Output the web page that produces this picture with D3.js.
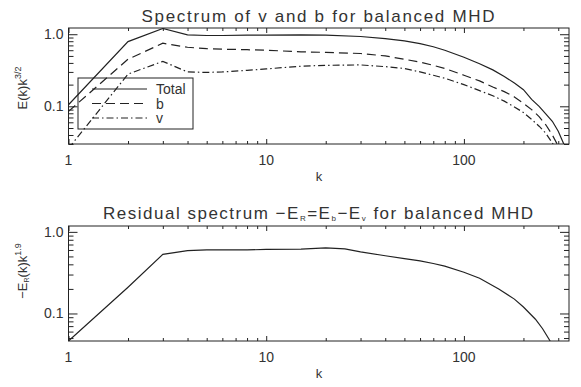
<!DOCTYPE html>
<html>
<head>
<meta charset="utf-8">
<script src="https://cdn.jsdelivr.net/npm/d3@7"></script>
<style>
  body { margin: 0; background: #fff; }
  svg text { font-family: "Liberation Sans", Arial, sans-serif; fill: #333; }
</style>
</head>
<body>
<div id="chart"></div>
<script>
// wavenumbers and spectra
var kTop = [1, 2, 3, 4, 5, 6, 8, 10, 15, 20, 30, 40, 50, 60, 70, 80, 100, 120, 140, 160, 180, 200, 220, 240, 260, 280, 300, 320, 340];
var total = [0.105, 0.79, 1.2, 0.98, 0.96, 0.96, 0.97, 0.97, 0.98, 0.97, 0.93, 0.87, 0.81, 0.74, 0.67, 0.6, 0.48, 0.39, 0.32, 0.26, 0.21, 0.17, 0.125, 0.1, 0.078, 0.062, 0.045, 0.03, 0.018];
var bSpec = [0.085, 0.45, 0.75, 0.66, 0.63, 0.62, 0.61, 0.6, 0.57, 0.56, 0.54, 0.5, 0.45, 0.41, 0.37, 0.335, 0.27, 0.225, 0.185, 0.16, 0.135, 0.11, 0.09, 0.072, 0.055, 0.04, 0.028, 0.02, 0.014];
var vSpec = [0.026, 0.28, 0.42, 0.30, 0.295, 0.30, 0.315, 0.33, 0.36, 0.37, 0.375, 0.355, 0.335, 0.3, 0.27, 0.245, 0.2, 0.165, 0.14, 0.118, 0.098, 0.082, 0.066, 0.053, 0.042, 0.031, 0.022, 0.016, 0.011];

var kRes = [1, 2, 3, 4, 5, 6, 8, 10, 15, 20, 25, 30, 40, 50, 60, 70, 80, 100, 120, 150, 180, 200, 230, 250, 270, 290];
var residual = [0.046, 0.21, 0.53, 0.59, 0.6, 0.6, 0.6, 0.61, 0.615, 0.635, 0.62, 0.57, 0.51, 0.47, 0.44, 0.41, 0.38, 0.32, 0.27, 0.2, 0.15, 0.12, 0.085, 0.065, 0.048, 0.035];

var xMajor = [1, 10, 100];
var xMinor = [2, 3, 4, 5, 6, 7, 8, 9, 20, 30, 40, 50, 60, 70, 80, 90, 200, 300];
var yMajor = [0.1, 1];
var yMinor = [0.03, 0.04, 0.05, 0.06, 0.07, 0.08, 0.09, 0.2, 0.3, 0.4, 0.5, 0.6, 0.7, 0.8, 0.9];

var legendNames = ["Total", "b", "v"];
var dashes = [null, "9,5", "7,3,1.5,3"];

var W = 581, H = 387;
var svg = d3.select("#chart").append("svg")
    .attr("width", W)
    .attr("height", H);

var ink = "#222";

function panel(opts) {
    var x = d3.scaleLog().domain([1, 340]).range([68.5, 569]);
    var y = d3.scaleLog().domain(opts.yDomain).range([opts.bottom, opts.top]);
    var g = svg.append("g");

    // clip
    var cid = "clip" + opts.id;
    svg.append("clipPath").attr("id", cid).append("rect")
        .attr("x", x.range()[0]).attr("y", opts.top)
        .attr("width", x.range()[1] - x.range()[0])
        .attr("height", opts.bottom - opts.top);

    function axis(gen, tx, ty, vals, size) {
        var a = g.append("g").attr("transform", "translate(" + tx + "," + ty + ")")
            .call(gen.tickValues(vals.filter(function (v) {
                var d = gen.scale().domain();
                return v >= d[0] && v <= d[1];
            })).tickSize(size).tickFormat(""));
        a.select(".domain").remove();
        a.selectAll("line").attr("stroke", ink);
    }
    // x ticks (bottom pointing up, top pointing down)
    axis(d3.axisBottom(x), 0, opts.bottom, xMajor, -5);
    axis(d3.axisBottom(x), 0, opts.bottom, xMinor, -3);
    axis(d3.axisTop(x), 0, opts.top, xMajor, -5);
    axis(d3.axisTop(x), 0, opts.top, xMinor, -3);
    // y ticks (left pointing right, right pointing left)
    axis(d3.axisLeft(y), x.range()[0], 0, yMajor, -9);
    axis(d3.axisLeft(y), x.range()[0], 0, yMinor, -5);
    axis(d3.axisRight(y), x.range()[1], 0, yMajor, -9);
    axis(d3.axisRight(y), x.range()[1], 0, yMinor, -5);

    g.append("rect")
        .attr("x", x.range()[0]).attr("y", opts.top)
        .attr("width", x.range()[1] - x.range()[0])
        .attr("height", opts.bottom - opts.top)
        .attr("fill", "none").attr("stroke", ink).attr("stroke-width", 1);

    // tick labels
    g.selectAll(".xl").data(xMajor).enter().append("text")
        .attr("x", function (d) { return x(d); })
        .attr("y", opts.bottom + 21)
        .attr("text-anchor", "middle")
        .attr("font-size", 14)
        .text(function (d) { return d; });
    g.selectAll(".yl").data(yMajor).enter().append("text")
        .attr("x", x.range()[0] - 5)
        .attr("y", function (d) { return y(d) + 5; })
        .attr("text-anchor", "end")
        .attr("font-size", 14)
        .text(function (d) { return d3.format(".1f")(d); });
    g.append("text")
        .attr("x", 319).attr("y", opts.bottom + 37)
        .attr("text-anchor", "middle").attr("font-size", 13)
        .text("k");

    var line = d3.line()
        .x(function (d) { return x(d[0]); })
        .y(function (d) { return y(d[1]); });

    opts.series.forEach(function (s, i) {
        g.append("path")
            .datum(d3.zip(opts.k, s))
            .attr("d", line)
            .attr("fill", "none")
            .attr("stroke", ink)
            .attr("stroke-width", 1.2)
            .attr("stroke-dasharray", dashes[i])
            .attr("clip-path", "url(#" + cid + ")");
    });
    return { g: g, x: x, y: y };
}

var top1 = panel({ id: 1, top: 28, bottom: 144, yDomain: [0.03, 1.22], k: kTop, series: [total, bSpec, vSpec] });
var bot = panel({ id: 2, top: 226, bottom: 341, yDomain: [0.046, 1.18], k: kRes, series: [residual] });

// titles
svg.append("text")
    .attr("x", 318).attr("y", 22)
    .attr("text-anchor", "middle")
    .attr("font-size", 17)
    .attr("textLength", 353).attr("lengthAdjust", "spacing")
    .text("Spectrum of v and b for balanced MHD");

var t2 = svg.append("text")
    .attr("x", 318).attr("y", 219)
    .attr("text-anchor", "middle")
    .attr("font-size", 17)
    .attr("textLength", 430).attr("lengthAdjust", "spacing");
t2.append("tspan").text("Residual spectrum \u2212E");
t2.append("tspan").attr("font-size", 8).attr("dy", 2).text("R");
t2.append("tspan").attr("dy", -2).text("=E");
t2.append("tspan").attr("font-size", 8).attr("dy", 2).text("b");
t2.append("tspan").attr("dy", -2).text("\u2212E");
t2.append("tspan").attr("font-size", 8).attr("dy", 2).text("v");
t2.append("tspan").attr("dy", -2).text(" for balanced MHD");

// y axis titles
var yl1 = svg.append("text")
    .attr("transform", "translate(27,88) rotate(-90)")
    .attr("text-anchor", "middle")
    .attr("font-size", 13);
yl1.append("tspan").text("E(k)k");
yl1.append("tspan").attr("font-size", 9).attr("dy", -6).text("3/2");

var yl2 = svg.append("text")
    .attr("transform", "translate(27,271) rotate(-90)")
    .attr("text-anchor", "middle")
    .attr("font-size", 13);
yl2.append("tspan").text("\u2212E");
yl2.append("tspan").attr("font-size", 7).attr("dy", 2).text("R");
yl2.append("tspan").attr("dy", -2).text("(k)k");
yl2.append("tspan").attr("font-size", 9).attr("dy", -6).text("1.9");

// legend (transparent box, curves show through)
var lg = top1.g.append("g");
lg.append("rect")
    .attr("x", 78).attr("y", 78).attr("width", 115).attr("height", 51)
    .attr("fill", "none").attr("stroke", ink).attr("stroke-width", 1);
legendNames.forEach(function (name, i) {
    var yy = 89 + i * 14.5;
    lg.append("line")
        .attr("x1", 92).attr("x2", 147).attr("y1", yy).attr("y2", yy)
        .attr("stroke", ink).attr("stroke-width", 1.2)
        .attr("stroke-dasharray", dashes[i]);
    lg.append("text")
        .attr("x", 156).attr("y", yy + 5)
        .attr("font-size", 14)
        .text(name);
});
</script>
</body>
</html>
